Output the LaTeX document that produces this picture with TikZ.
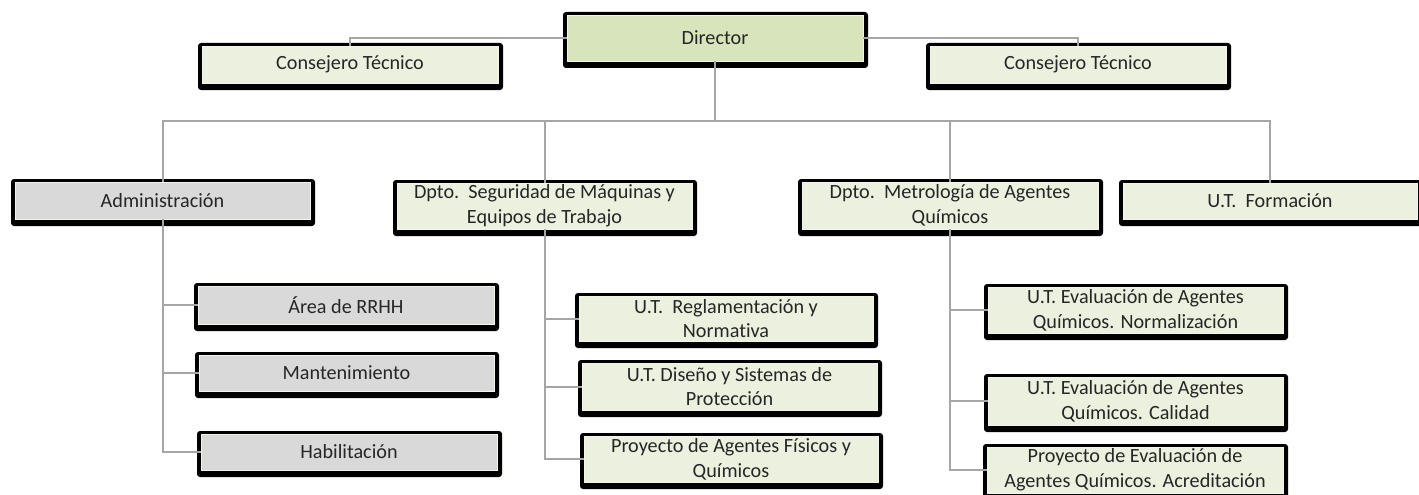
\documentclass[tikz,border=0pt]{standalone}
\usepackage{fontspec}
\setmainfont{Carlito}[Ligatures=NoCommon]
\definecolor{dirfill}{HTML}{D8E4BC}
\definecolor{gfill}{HTML}{EBF1DE}
\definecolor{grayfill}{HTML}{D9D9D9}
\definecolor{innerline}{HTML}{F2F6E8}
\definecolor{connc}{HTML}{A6A6A6}
\definecolor{txt}{HTML}{262626}
\tikzset{
  orgnode/.style={draw=innerline, line width=0.8pt, inner sep=0pt, align=center,
    text=txt, font=\fontsize{20.2}{24.8}\selectfont},
  conn/.style={draw=connc, line width=2pt},
}
\newcommand{\orgbox}[7]{%
  \pgfmathsetmacro\bxc{(#2+#4)/2-0.5}%
  \pgfmathsetmacro\byc{(#3+#5)/2-2}%
  \pgfmathsetmacro\bw{#4-#2-9}%
  \pgfmathsetmacro\bh{#5-#3-10}%
  \fill[black, rounded corners=3pt] (#2,#3) rectangle (#4,#5);
  \node[orgnode, fill=#6, minimum width=\bw pt, minimum height=\bh pt] (#1) at (\bxc,\byc) {#7};
}
\begin{document}
\begin{tikzpicture}[x=1pt,y=-1pt]
\useasboundingbox (0,0) rectangle (1419,495);
\clip (0,0) rectangle (1419,495);
\fill[white] (0,0) rectangle (1419,495);
% top level
\orgbox{dir}{563}{12}{868}{68}{dirfill}{Director}
\orgbox{ctl}{198}{43}{503}{90}{gfill}{Consejero Técnico}
\orgbox{ctr}{926}{43}{1231}{90}{gfill}{Consejero Técnico}
% second level
\orgbox{adm}{11}{179}{315}{226}{grayfill}{Administración}
\orgbox{seg}{393}{180}{697}{236}{gfill}{Dpto.\ \ Seguridad de Máquinas y\\Equipos de Trabajo}
\orgbox{met}{798}{179}{1103}{236}{gfill}{Dpto.\ \ Metrología de Agentes\\Químicos}
\orgbox{for}{1119}{180}{1422}{226}{gfill}{U.T.\ \ Formación}
% administración children
\orgbox{rrhh}{194}{283}{499}{331}{grayfill}{Área de RRHH}
\orgbox{man}{195}{352}{499}{398}{grayfill}{Mantenimiento}
\orgbox{hab}{197}{431}{502}{477}{grayfill}{Habilitación}
% seguridad children
\orgbox{reg}{575}{293}{878}{348}{gfill}{U.T.\ \ Reglamentación y\\Normativa}
\orgbox{dis}{578}{360}{882}{417}{gfill}{U.T. Diseño y Sistemas de\\Protección}
\orgbox{pro}{580}{433}{883}{489}{gfill}{Proyecto de Agentes Físicos y\\Químicos}
% metrología children
\orgbox{nor}{984}{284}{1288}{340}{gfill}{U.T. Evaluación de Agentes\\Químicos. Normalización}
\orgbox{cal}{984}{374}{1288}{432}{gfill}{U.T. Evaluación de Agentes\\Químicos. Calidad}
\orgbox{pre}{983}{444}{1288}{500}{gfill}{Proyecto de Evaluación de\\Agentes Químicos. Acreditación}
% connectors
\draw[conn] (dir.west) -| (ctl.north);
\draw[conn] (dir.east) -| (ctr.north);
\draw[conn] (dir.south) -- (dir.south |- 0,121);
\draw[conn] (adm.north) |- (for.north |- 0,121) -- (for.north);
\draw[conn] (seg.north) -- (seg.north |- 0,121);
\draw[conn] (met.north) -- (met.north |- 0,121);
\draw[conn] (adm.south) |- (hab.west);
\draw[conn] (adm.south |- rrhh.west) -- (rrhh.west);
\draw[conn] (adm.south |- man.west) -- (man.west);
\draw[conn] (seg.south) |- (pro.west);
\draw[conn] (seg.south |- reg.west) -- (reg.west);
\draw[conn] (seg.south |- dis.west) -- (dis.west);
\draw[conn] (met.south) |- (pre.west);
\draw[conn] (met.south |- nor.west) -- (nor.west);
\draw[conn] (met.south |- cal.west) -- (cal.west);
\end{tikzpicture}
\end{document}
